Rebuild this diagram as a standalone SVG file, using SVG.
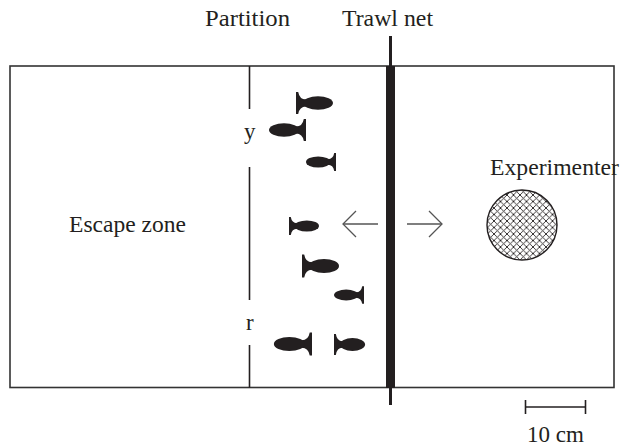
<svg xmlns="http://www.w3.org/2000/svg" width="625" height="447" viewBox="0 0 625 447">
  <style>
    .lbl { font-family: "Liberation Serif", "Times New Roman", serif; font-size: 23px; fill: #231f20; }
    .frame { fill: none; stroke: #333; stroke-width: 1.6; }
    .thin { stroke: #231f20; stroke-width: 1.6; fill: none; }
    .arrow { stroke: #555; stroke-width: 1.3; fill: none; marker-end: url(#chevron); }
    .fish { fill: #231f20; }
  </style>
  <defs>
    <marker id="chevron" markerUnits="userSpaceOnUse" markerWidth="30" markerHeight="30" viewBox="-15 -15 30 30" refX="0" refY="0" orient="auto">
      <path d="M-13,-13 L0,0 L-13,13" fill="none" stroke="#555" stroke-width="1.3"/>
    </marker>
    <pattern id="hatch" patternUnits="userSpaceOnUse" width="6.5" height="6.5">
      <path d="M-1,1 L1,-1 M0,6.5 L6.5,0 M5.5,7.5 L7.5,5.5 M-1,5.5 L1,7.5 M0,0 L6.5,6.5 M5.5,-1 L7.5,1" stroke="#231f20" stroke-width="0.9"/>
    </pattern>
    <!-- fish facing right: tail at x=0, nose at x=37 -->
    <g id="fishR" class="fish">
      <path d="M0,-11 L2.2,-11 Q3.5,-3.5 10,-3.5 L10,3.5 Q3.5,3.5 2.2,11 L0,11 Z"/>
      <ellipse cx="22" cy="0" rx="15" ry="6.8"/>
    </g>
  </defs>

  <!-- tank outline -->
  <g id="tank">
    <rect class="frame" x="10" y="66" width="604" height="321.5"/>
  </g>

  <!-- partition with gaps -->
  <g id="partition">
    <line class="thin" x1="249.5" y1="66" x2="249.5" y2="109"/>
    <line class="thin" x1="249.5" y1="167" x2="249.5" y2="300"/>
    <line class="thin" x1="249.5" y1="345" x2="249.5" y2="387.5"/>
    <text class="lbl" x="244" y="139">y</text>
    <text class="lbl" x="246" y="330">r</text>
    <text class="lbl" x="205" y="26" textLength="85" lengthAdjust="spacingAndGlyphs">Partition</text>
  </g>

  <!-- trawl net -->
  <g id="trawl-net">
    <line x1="390.5" y1="36" x2="390.5" y2="405" stroke="#231f20" stroke-width="3"/>
    <rect x="386" y="66" width="9" height="322" fill="#231f20"/>
    <text class="lbl" x="342" y="26" textLength="91" lengthAdjust="spacingAndGlyphs">Trawl net</text>
  </g>

  <!-- escape zone -->
  <g id="escape-zone">
    <text class="lbl" x="69" y="232" textLength="117" lengthAdjust="spacingAndGlyphs">Escape zone</text>
  </g>

  <!-- fish -->
  <g id="fish">
    <use href="#fishR" transform="translate(296,103)"/>
    <use href="#fishR" transform="translate(306,130) scale(-1,1)"/>
    <use href="#fishR" transform="translate(336,162) scale(-0.81,0.82)"/>
    <use href="#fishR" transform="translate(289,226) scale(0.81,0.82)"/>
    <use href="#fishR" transform="translate(302,266) scale(1,1.04)"/>
    <use href="#fishR" transform="translate(364,295) scale(-0.81,0.8)"/>
    <use href="#fishR" transform="translate(312,344) scale(-1.03,1.04)"/>
    <use href="#fishR" transform="translate(334,344.5) scale(0.84,0.95)"/>
  </g>

  <!-- connectors: movement arrows -->
  <g id="connectors">
    <line class="arrow" x1="378" y1="224" x2="343" y2="224"/>
    <line class="arrow" x1="407" y1="224" x2="442" y2="224"/>
  </g>

  <!-- experimenter -->
  <g id="experimenter">
    <circle cx="522" cy="225" r="35" fill="url(#hatch)" stroke="#231f20" stroke-width="1.4"/>
    <text class="lbl" x="490" y="175" textLength="129" lengthAdjust="spacingAndGlyphs">Experimenter</text>
  </g>

  <!-- scale bar -->
  <g id="scale-bar">
    <line class="thin" x1="525" y1="407" x2="586" y2="407" stroke="#444"/>
    <line class="thin" x1="525.5" y1="400" x2="525.5" y2="414"/>
    <line class="thin" x1="585.5" y1="400" x2="585.5" y2="414"/>
    <text class="lbl" x="555.5" y="442" text-anchor="middle">10 cm</text>
  </g>
</svg>
